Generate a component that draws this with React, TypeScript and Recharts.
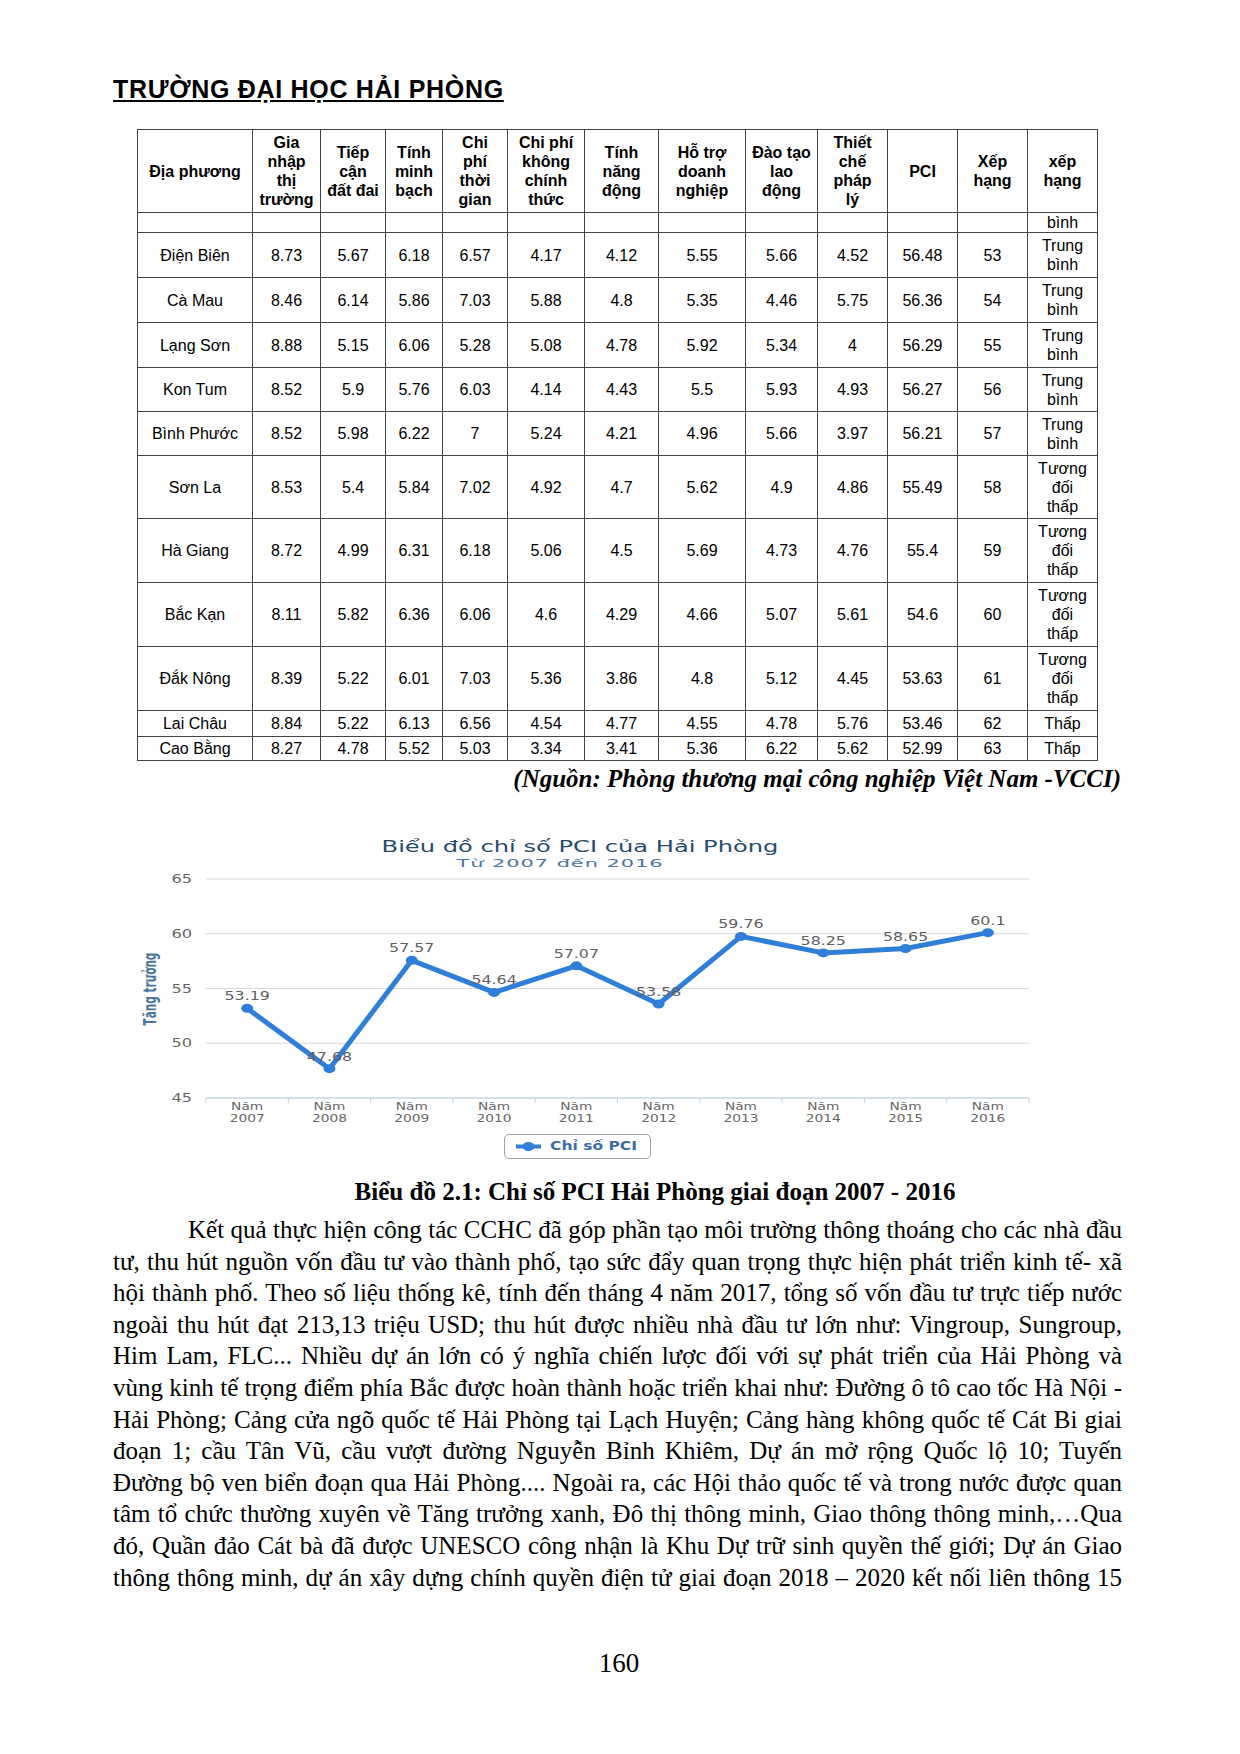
import React from "react";
import {
  LineChart,
  Line,
  XAxis,
  YAxis,
  CartesianGrid,
  LabelList,
} from "recharts";

// --- Data ---

const years = ["2007", "2008", "2009", "2010", "2011", "2012", "2013", "2014", "2015", "2016"];
const pciValues = [53.19, 47.68, 57.57, 54.64, 57.07, 53.58, 59.76, 58.25, 58.65, 60.1];
const yTicks = [45, 50, 55, 60, 65];

const tableHeaders = [
  "Địa phương",
  "Gia\nnhập\nthị\ntrường",
  "Tiếp\ncận\nđất đai",
  "Tính\nminh\nbạch",
  "Chi\nphí\nthời\ngian",
  "Chi phí\nkhông\nchính\nthức",
  "Tính\nnăng\nđộng",
  "Hỗ trợ\ndoanh\nnghiệp",
  "Đào tạo\nlao\nđộng",
  "Thiết\nchế\npháp\nlý",
  "PCI",
  "Xếp\nhạng",
  "xếp\nhạng",
];

const tableRows = [
  ["", "", "", "", "", "", "", "", "", "", "", "", "bình"],
  ["Điện Biên", "8.73", "5.67", "6.18", "6.57", "4.17", "4.12", "5.55", "5.66", "4.52", "56.48", "53", "Trung\nbình"],
  ["Cà Mau", "8.46", "6.14", "5.86", "7.03", "5.88", "4.8", "5.35", "4.46", "5.75", "56.36", "54", "Trung\nbình"],
  ["Lạng Sơn", "8.88", "5.15", "6.06", "5.28", "5.08", "4.78", "5.92", "5.34", "4", "56.29", "55", "Trung\nbình"],
  ["Kon Tum", "8.52", "5.9", "5.76", "6.03", "4.14", "4.43", "5.5", "5.93", "4.93", "56.27", "56", "Trung\nbình"],
  ["Bình Phước", "8.52", "5.98", "6.22", "7", "5.24", "4.21", "4.96", "5.66", "3.97", "56.21", "57", "Trung\nbình"],
  ["Sơn La", "8.53", "5.4", "5.84", "7.02", "4.92", "4.7", "5.62", "4.9", "4.86", "55.49", "58", "Tương\nđối\nthấp"],
  ["Hà Giang", "8.72", "4.99", "6.31", "6.18", "5.06", "4.5", "5.69", "4.73", "4.76", "55.4", "59", "Tương\nđối\nthấp"],
  ["Bắc Kạn", "8.11", "5.82", "6.36", "6.06", "4.6", "4.29", "4.66", "5.07", "5.61", "54.6", "60", "Tương\nđối\nthấp"],
  ["Đắk Nông", "8.39", "5.22", "6.01", "7.03", "5.36", "3.86", "4.8", "5.12", "4.45", "53.63", "61", "Tương\nđối\nthấp"],
  ["Lai Châu", "8.84", "5.22", "6.13", "6.56", "4.54", "4.77", "4.55", "4.78", "5.76", "53.46", "62", "Thấp"],
  ["Cao Bằng", "8.27", "4.78", "5.52", "5.03", "3.34", "3.41", "5.36", "6.22", "5.62", "52.99", "63", "Thấp"],
];

const bodyLines = [
  "Kết quả thực hiện công tác CCHC đã góp phần tạo môi trường thông thoáng cho các nhà đầu",
  "tư, thu hút nguồn vốn đầu tư vào thành phố, tạo sức đẩy quan trọng thực hiện phát triển kinh tế- xã",
  "hội thành phố. Theo số liệu thống kê, tính đến tháng 4 năm 2017, tổng số vốn đầu tư trực tiếp nước",
  "ngoài thu hút đạt 213,13 triệu USD; thu hút được nhiều nhà đầu tư lớn như: Vingroup, Sungroup,",
  "Him Lam, FLC... Nhiều dự án lớn có ý nghĩa chiến lược đối với sự phát triển của Hải Phòng và",
  "vùng kinh tế trọng điểm phía Bắc được hoàn thành hoặc triển khai như: Đường ô tô cao tốc Hà Nội -",
  "Hải Phòng; Cảng cửa ngõ quốc tế Hải Phòng tại Lạch Huyện; Cảng hàng không quốc tế Cát Bi giai",
  "đoạn 1; cầu Tân Vũ, cầu vượt đường Nguyễn Bỉnh Khiêm, Dự án mở rộng Quốc lộ 10; Tuyến",
  "Đường bộ ven biển đoạn qua Hải Phòng.... Ngoài ra, các Hội thảo quốc tế và trong nước được quan",
  "tâm tổ chức thường xuyên về Tăng trưởng xanh, Đô thị thông minh, Giao thông thông minh,…Qua",
  "đó, Quần đảo Cát bà đã được UNESCO công nhận là Khu Dự trữ sinh quyền thế giới; Dự án Giao",
  "thông thông minh, dự án xây dựng chính quyền điện tử giai đoạn 2018 – 2020 kết nối liên thông 15",
];

const chartData = pciValues.map((v, i) => ({ idx: i, pci: v }));
// category centres plus the boundaries between them (for the small tick marks)
const xTicks = years.flatMap((_, i) => [i - 0.5, i]).concat([years.length - 0.5]);

// --- Styles ---

const SERIF = '"Liberation Serif", "Times New Roman", serif';
const SANS = '"Liberation Sans", Arial, sans-serif';
const CHART_FONT = '"DejaVu Sans", Verdana, sans-serif';
const LINE_BLUE = "#2f7ed8";

const colWidths = [114, 67, 64, 56, 64, 76, 73, 86, 71, 69, 69, 69, 69];
const rowHeights = [20, 45, 45, 45, 44, 44, 63, 64, 64, 64, 26, 24];

// --- Chart parts ---

const YTick = ({ x, y, payload }: any) => (
  <text
    transform={`translate(${x},${y}) scale(1.35,1)`}
    textAnchor="end"
    dy="0.35em"
    fontSize={12}
    fill="#666"
    fontFamily={CHART_FONT}
  >
    {payload.value}
  </text>
);

const XTick = ({ x, y, payload }: any) => {
  const v = payload.value;
  if (!Number.isInteger(v)) {
    return <line x1={x} x2={x} y1={y} y2={y + 5} stroke="#c0d0e0" />;
  }
  return (
    <g transform={`translate(${x},${y}) scale(1.25,1)`}>
      <text textAnchor="middle" y={12} fontSize={11} fill="#666" fontFamily={CHART_FONT}>
        Năm
      </text>
      <text textAnchor="middle" y={24} fontSize={11} fill="#666" fontFamily={CHART_FONT}>
        {years[v]}
      </text>
    </g>
  );
};

const PointLabel = ({ x, y, value }: any) => (
  <text
    transform={`translate(${x},${y - 8}) scale(1.32,1)`}
    textAnchor="middle"
    fontSize={12}
    fill="#606060"
    fontFamily={CHART_FONT}
  >
    {value}
  </text>
);

const Dot = ({ cx, cy }: any) => <ellipse cx={cx} cy={cy} rx={6} ry={4.5} fill={LINE_BLUE} />;

const PciChart = () => (
  <div style={{ position: "absolute", left: 118, top: 830, width: 920, height: 340 }}>
    <div
      style={{
        position: "absolute",
        left: 2,
        top: 8,
        width: 920,
        textAlign: "center",
        fontFamily: CHART_FONT,
        fontSize: 15,
        lineHeight: "18px",
        color: "#274b6d",
        transform: "scaleX(1.61)",
      }}
    >
      Biểu đồ chỉ số PCI của Hải Phòng
    </div>
    <div
      style={{
        position: "absolute",
        left: -18,
        top: 27,
        width: 920,
        textAlign: "center",
        fontFamily: CHART_FONT,
        fontSize: 11,
        lineHeight: "13px",
        letterSpacing: 0.5,
        color: "#4d759e",
        transform: "scaleX(1.9)",
      }}
    >
      Từ 2007 đến 2016
    </div>
    <div
      style={{
        position: "absolute",
        left: 32 - 60,
        top: 159 - 7,
        width: 120,
        height: 14,
        lineHeight: "14px",
        textAlign: "center",
        fontFamily: CHART_FONT,
        fontSize: 10.5,
        fontWeight: "bold",
        color: "#4d759e",
        transform: "scaleX(1.6) rotate(-90deg)",
      }}
    >
      Tăng trưởng
    </div>
    <div style={{ position: "absolute", left: 0, top: 0 }}>
      <LineChart
        width={920}
        height={300}
        data={chartData}
        margin={{ top: 49, right: 9, left: 20, bottom: 2 }}
      >
        <CartesianGrid vertical={false} stroke="#d9d9d9" />
        <XAxis
          dataKey="idx"
          type="number"
          domain={[-0.5, years.length - 0.5]}
          ticks={xTicks}
          interval={0}
          height={30}
          tickSize={0}
          tickMargin={0}
          tickLine={false}
          axisLine={{ stroke: "#c0d0e0" }}
          tick={<XTick />}
        />
        <YAxis
          domain={[45, 65]}
          ticks={yTicks}
          width={68}
          tickSize={0}
          tickMargin={14}
          axisLine={false}
          tickLine={false}
          tick={<YTick />}
        />
        <Line
          type="linear"
          dataKey="pci"
          stroke={LINE_BLUE}
          strokeWidth={5}
          strokeLinejoin="round"
          dot={<Dot />}
          activeDot={false}
          isAnimationActive={false}
        >
          <LabelList dataKey="pci" content={<PointLabel />} />
        </Line>
      </LineChart>
    </div>
    {/* legend */}
    <div
      style={{
        position: "absolute",
        left: 386,
        top: 304,
        width: 145,
        height: 23,
        border: "1px solid #a0a0a0",
        borderRadius: 5,
      }}
    >
      <svg width={40} height={23} style={{ position: "absolute", left: 0, top: 0 }}>
        <line x1={11} x2={36} y1={11.5} y2={11.5} stroke={LINE_BLUE} strokeWidth={4} />
        <ellipse cx={23.5} cy={11.5} rx={6} ry={4.5} fill={LINE_BLUE} />
      </svg>
      <div
        style={{
          position: "absolute",
          left: 45,
          top: 4,
          fontFamily: CHART_FONT,
          fontSize: 11.5,
          fontWeight: "bold",
          lineHeight: "14px",
          color: "#3d6aa8",
          whiteSpace: "nowrap",
          transform: "scaleX(1.35)",
          transformOrigin: "left center",
        }}
      >
        Chỉ số PCI
      </div>
    </div>
  </div>
);

// --- Page ---

const Cell = ({ text, w, bold }: { text: string; w: number; bold?: boolean }) => (
  <td
    style={{
      width: w,
      border: "1px solid #444",
      padding: 0,
      textAlign: "center",
      verticalAlign: "middle",
      whiteSpace: "pre-line",
      fontWeight: bold ? "bold" : "normal",
    }}
  >
    {text}
  </td>
);

const App = () => {
  return (
    <div
      style={{
        position: "absolute",
        left: 0,
        top: 0,
        width: 1240,
        height: 1754,
        background: "#fff",
        color: "#000",
        overflow: "hidden",
      }}
    >
      <div
        style={{
          position: "absolute",
          left: 113,
          top: 74,
          fontFamily: SANS,
          fontWeight: "bold",
          fontSize: 25,
          lineHeight: "30px",
          letterSpacing: 0.7,
          textDecoration: "underline",
          whiteSpace: "nowrap",
        }}
      >
        TRƯỜNG ĐẠI HỌC HẢI PHÒNG
      </div>

      <table
        style={{
          position: "absolute",
          left: 137,
          top: 129,
          width: 960,
          borderCollapse: "collapse",
          tableLayout: "fixed",
          fontFamily: SANS,
          fontSize: 16,
          lineHeight: "19px",
        }}
      >
        <tbody>
          <tr style={{ height: 83 }}>
            {tableHeaders.map((h, i) => (
              <Cell key={i} text={h} w={colWidths[i]} bold />
            ))}
          </tr>
          {tableRows.map((row, r) => (
            <tr key={r} style={{ height: rowHeights[r] }}>
              {row.map((c, i) => (
                <Cell key={i} text={c} w={colWidths[i]} />
              ))}
            </tr>
          ))}
        </tbody>
      </table>

      <div
        style={{
          position: "absolute",
          left: 113,
          top: 764,
          width: 1008,
          textAlign: "right",
          fontFamily: SERIF,
          fontWeight: "bold",
          fontStyle: "italic",
          fontSize: 25,
          lineHeight: "30px",
        }}
      >
        (Nguồn: Phòng thương mại công nghiệp Việt Nam -VCCI)
      </div>

      <PciChart />

      <div
        style={{
          position: "absolute",
          left: 113,
          top: 1177,
          width: 1009,
          paddingLeft: 75,
          boxSizing: "border-box",
          textAlign: "center",
          fontFamily: SERIF,
          fontWeight: "bold",
          fontSize: 25,
          lineHeight: "30px",
        }}
      >
        Biểu đồ 2.1: Chỉ số PCI Hải Phòng giai đoạn 2007 - 2016
      </div>

      {bodyLines.map((line, i) => (
        <div
          key={i}
          style={{
            position: "absolute",
            left: 113,
            top: 1214 + i * 31.6,
            width: 1009,
            paddingLeft: i === 0 ? 75 : 0,
            boxSizing: "border-box",
            textAlign: "justify",
            textAlignLast: "justify",
            fontFamily: SERIF,
            fontSize: 25,
            lineHeight: "31.6px",
          }}
        >
          {line}
        </div>
      ))}

      <div
        style={{
          position: "absolute",
          left: 519,
          top: 1647,
          width: 200,
          textAlign: "center",
          fontFamily: SERIF,
          fontSize: 27,
          lineHeight: "32px",
        }}
      >
        160
      </div>
    </div>
  );
};

export default App;
